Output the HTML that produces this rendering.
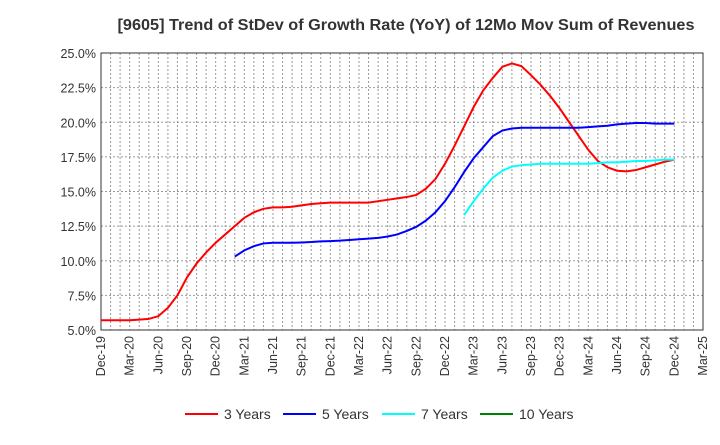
<!DOCTYPE html>
<html><head><meta charset="utf-8"><style>
body{margin:0;background:#fff;font-family:"Liberation Sans",sans-serif}
svg text{font-family:"Liberation Sans",sans-serif}
</style></head><body>
<svg id="c" width="720" height="440" xmlns="http://www.w3.org/2000/svg">
<text x="406" y="30" text-anchor="middle" font-size="16" font-weight="bold" fill="#333" textLength="577" lengthAdjust="spacingAndGlyphs">[9605]  Trend of StDev of Growth Rate (YoY) of 12Mo Mov Sum of Revenues</text>
<g id="grid"></g><g id="axes"></g><g id="series"></g><g id="legend"></g>
</svg>
<script>
const xLabels=["Dec-19","Mar-20","Jun-20","Sep-20","Dec-20","Mar-21","Jun-21","Sep-21","Dec-21","Mar-22","Jun-22","Sep-22","Dec-22","Mar-23","Jun-23","Sep-23","Dec-23","Mar-24","Jun-24","Sep-24","Dec-24","Mar-25"];
const yTicks=[5,7.5,10,12.5,15,17.5,20,22.5,25];
const y3=[5.7,5.7,5.7,5.7,5.75,5.8,6.0,6.6,7.5,8.8,9.8,10.6,11.3,11.9,12.5,13.1,13.5,13.75,13.85,13.85,13.9,14.0,14.1,14.15,14.2,14.2,14.2,14.2,14.2,14.3,14.4,14.5,14.6,14.75,15.2,15.9,17.0,18.3,19.7,21.1,22.3,23.2,24.0,24.25,24.05,23.4,22.7,21.9,21.0,20.0,19.0,18.0,17.2,16.75,16.5,16.45,16.55,16.75,16.95,17.15,17.3];
const y5Start=14;
const y5=[10.3,10.75,11.05,11.25,11.3,11.3,11.3,11.32,11.35,11.4,11.42,11.45,11.5,11.55,11.6,11.65,11.75,11.9,12.15,12.45,12.9,13.5,14.3,15.3,16.4,17.4,18.2,19.0,19.4,19.55,19.6,19.6,19.6,19.6,19.6,19.6,19.6,19.65,19.7,19.75,19.85,19.9,19.95,19.95,19.9,19.9,19.9];
const y7Start=38;
const y7=[13.3,14.3,15.2,16.0,16.5,16.8,16.9,16.95,17.0,17.0,17.0,17.0,17.0,17.0,17.05,17.1,17.1,17.15,17.2,17.2,17.25,17.3,17.3];
const y10=[];
const L=101,R=703,T=53,B=330,NS="http://www.w3.org/2000/svg";
const xs=i=>L+(R-L)*i/63;
const ys=v=>B-(v-5)/20*(B-T);
function mk(t,a,p){const e=document.createElementNS(NS,t);for(const k in a)e.setAttribute(k,a[k]);p.appendChild(e);return e;}
const grid=document.getElementById('grid'),axes=document.getElementById('axes'),ser=document.getElementById('series'),leg=document.getElementById('legend');
for(let i=1;i<63;i++){const l=mk('line',{x1:xs(i),x2:xs(i),y1:T,y2:B,stroke:'#999','stroke-dasharray':'2,2','stroke-width':1},grid);

}
yTicks.forEach(v=>{const l=mk('line',{x1:L,x2:R,y1:ys(v),y2:ys(v),stroke:'#999','stroke-dasharray':'2,2','stroke-width':1},grid);


const t=mk('text',{x:L-5,y:ys(v)+5,'text-anchor':'end','font-size':12.5,fill:'#333'},axes);t.textContent=v.toFixed(1)+'%';

});
xLabels.forEach((s,i)=>{const x=xs(i*3);const t=mk('text',{x:x+4,y:B+6,'text-anchor':'end','font-size':12.5,fill:'#333',transform:`rotate(-90 ${x+4} ${B+6})`},axes);t.textContent=s;

});
const fr=mk('rect',{x:L,y:T,width:R-L,height:B-T,fill:'none',stroke:'#333','stroke-width':1},axes);


function line(arr,start,col,name){if(!arr.length)return;const p=mk('polyline',{points:arr.map((v,i)=>xs(start+i)+','+ys(v)).join(' '),fill:'none',stroke:col,'stroke-width':2},ser);

}
line(y3,0,'#f00','series-3-years');
line(y5,y5Start,'#00f','series-5-years');
line(y7,y7Start,'#0ff','series-7-years');
line(y10,0,'#008000','series-10-years');
[["3 Years","#f00",185],["5 Years","#00f",283],["7 Years","#0ff",382],["10 Years","#008000",480]].forEach(([n,c,x])=>{
const g=mk('g',{},leg);


mk('line',{x1:x,x2:x+33,y1:414,y2:414,stroke:c,'stroke-width':2},g);
const t=mk('text',{x:x+39,y:419,'font-size':14,fill:'#333'},g);t.textContent=n;});
</script>
</body></html>
